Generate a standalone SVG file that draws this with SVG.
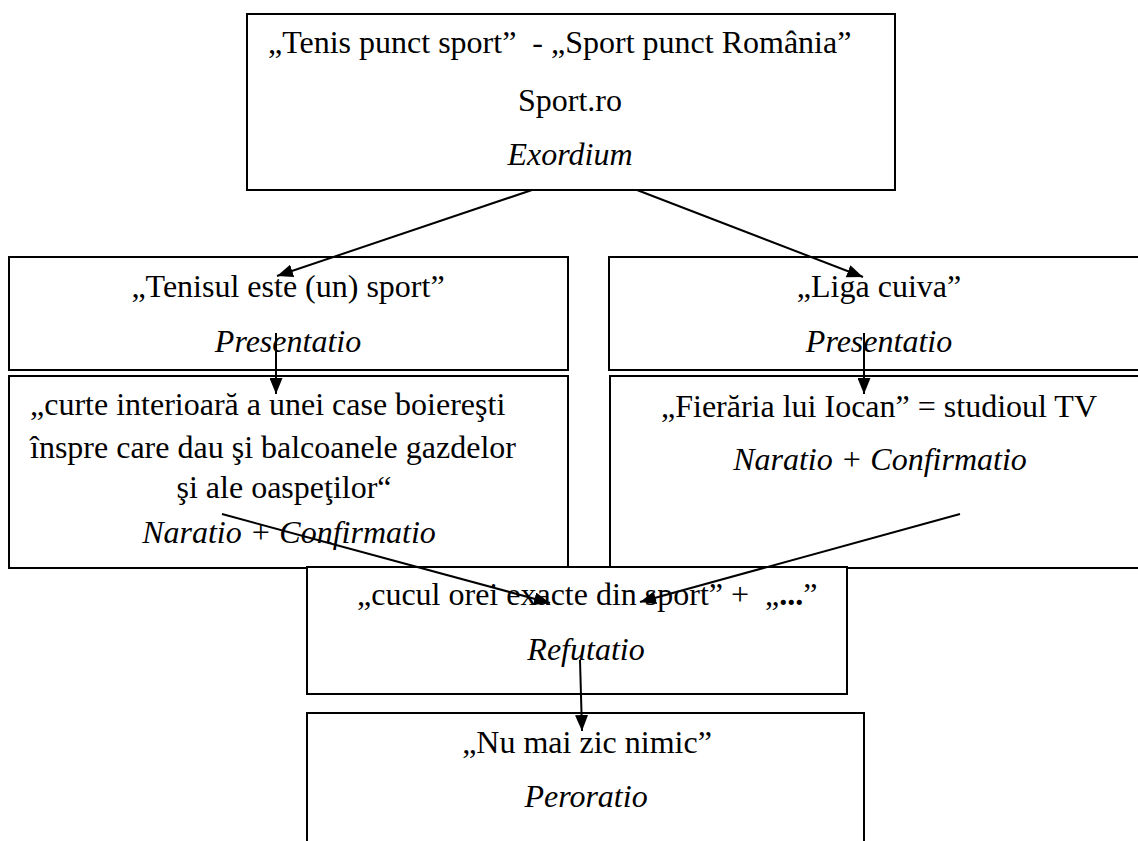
<svg xmlns="http://www.w3.org/2000/svg" width="1138" height="841" viewBox="0 0 1138 841">
<style>
.box{fill:#fff;stroke:#000;stroke-width:2}
.t{font-family:"Liberation Serif","Times New Roman",serif;font-size:32px;fill:#000}
.i{font-style:italic}
.m{text-anchor:middle}
.c{stroke:#000;stroke-width:2;fill:none;marker-end:url(#ah)}
</style>
<defs>
<marker id="ah" markerUnits="userSpaceOnUse" markerWidth="17" markerHeight="13" refX="16" refY="6.5" orient="auto">
<path d="M0,0 L16,6.5 L0,13 z" fill="#000"/>
</marker>
</defs>
<rect width="1138" height="841" fill="#fff"/>
<g id="exordium">
<rect class="box" x="247" y="14" width="648" height="176"/>
<text class="t" x="268" y="53" xml:space="preserve">„Tenis punct sport”  - „Sport punct România”</text>
<text class="t m" x="570" y="111">Sport.ro</text>
<text class="t i m" x="570" y="165">Exordium</text>
</g>
<g id="presentatio-left">
<rect class="box" x="9" y="257" width="559" height="113"/>
<text class="t m" x="288" y="297">„Tenisul este (un) sport”</text>
<text class="t i m" x="288" y="352">Presentatio</text>
</g>
<g id="presentatio-right">
<rect class="box" x="609" y="257" width="545" height="113"/>
<text class="t m" x="879" y="297">„Liga cuiva”</text>
<text class="t i m" x="879" y="352">Presentatio</text>
</g>
<g id="naratio-left">
<rect class="box" x="9" y="376" width="559" height="192"/>
<text class="t" x="30" y="415">„curte interioară a unei case boiereşti</text>
<text class="t" x="30" y="458">înspre care dau şi balcoanele gazdelor</text>
<text class="t m" x="284" y="498">şi ale oaspeţilor“</text>
<text class="t i m" x="289" y="543">Naratio + Confirmatio</text>
</g>
<g id="naratio-right">
<rect class="box" x="610" y="376" width="545" height="192"/>
<text class="t m" x="879" y="417">„Fierăria lui Iocan” = studioul TV</text>
<text class="t i m" x="880" y="470">Naratio + Confirmatio</text>
</g>
<g id="refutatio">
<rect class="box" x="307" y="567" width="540" height="127"/>
<text class="t" x="357" y="605" xml:space="preserve">„cucul orei exacte din sport” +  „<tspan font-weight="bold">...</tspan>”</text>
<text class="t i m" x="586" y="660">Refutatio</text>
</g>
<g id="peroratio">
<rect class="box" x="307" y="713" width="557" height="150"/>
<text class="t m" x="587" y="753">„Nu mai zic nimic”</text>
<text class="t i m" x="586" y="807">Peroratio</text>
</g>
<g id="connectors">
<line class="c" x1="532" y1="190" x2="277" y2="276"/>
<line class="c" x1="637" y1="190" x2="863" y2="277"/>
<line class="c" x1="276" y1="333" x2="276" y2="394"/>
<line class="c" x1="864" y1="333" x2="864" y2="394"/>
<line class="c" x1="222" y1="514" x2="550" y2="603"/>
<line class="c" x1="960" y1="514" x2="640" y2="602"/>
<line class="c" x1="580" y1="660" x2="582" y2="731"/>
</g>
</svg>
